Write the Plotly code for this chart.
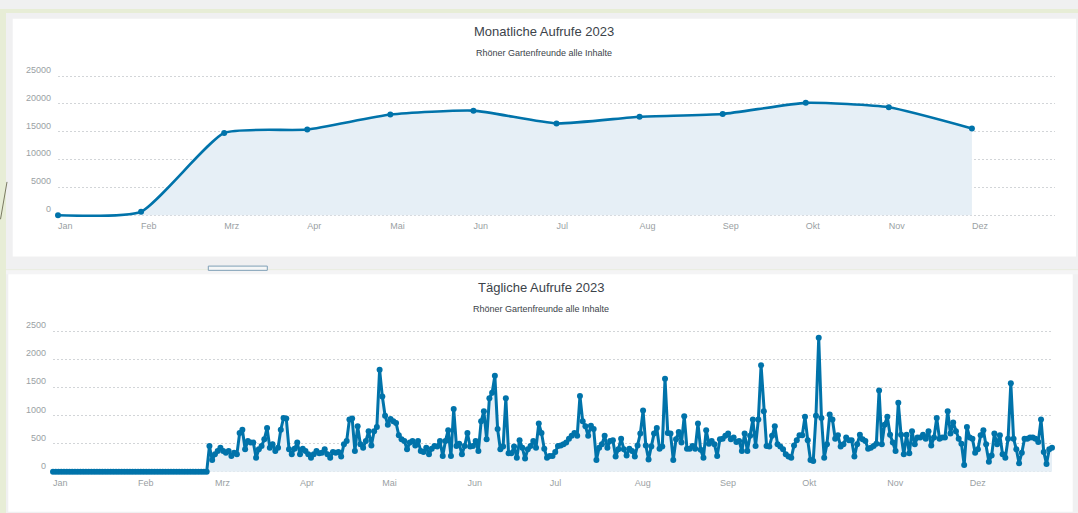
import plotly.graph_objects as go
import pandas as pd

W, H = 1078, 513

# ---------------- data ----------------
months = ["Jan", "Feb", "Mrz", "Apr", "Mai", "Jun", "Jul", "Aug", "Sep", "Okt", "Nov", "Dez"]
monthly_views = [0, 650, 14800, 15400, 18100, 18800, 16500, 17700, 18200, 20200, 19400, 15600]

# 1 Jan - 26 Feb: no views recorded
daily_views_jan_feb = [0, 0, 0, 0, 0, 0, 0, 0, 0, 0, 0, 0, 0, 0, 0, 0, 0, 0, 0, 0,
                       0, 0, 0, 0, 0, 0, 0, 0, 0, 0, 0, 0, 0, 0, 0, 0, 0, 0, 0, 0,
                       0, 0, 0, 0, 0, 0, 0, 0, 0, 0, 0, 0, 0, 0, 0, 0, 0]
# 27 Feb - 23 Apr
daily_views_feb_apr = [460, 210, 310, 370, 430, 370, 340, 370, 280, 340, 310, 690, 750, 400,
                       550, 520, 520, 250, 400, 460, 580, 780, 430, 490, 370, 430, 750, 960,
                       950, 400, 310, 410, 520, 310, 410, 370, 310, 250, 310, 370, 330, 340,
                       400, 310, 250, 350, 340, 350, 270, 490, 550, 930, 950, 370, 810, 490]
# 24 Apr - 1 Sep
daily_views_apr_sep = [430, 550, 720, 470, 720, 800, 1820, 1340, 1000, 840,
                       940, 900, 870, 650, 580, 550, 400, 520, 550, 470,
                       550, 370, 350, 430, 310, 410, 460, 450, 550, 280,
                       550, 740, 280, 1120, 460, 500, 310, 460, 690, 450,
                       460, 550, 370, 900, 1080, 580, 1310, 1410, 1710, 760,
                       400, 450, 1310, 330, 330, 450, 250, 560, 430, 235,
                       400, 460, 550, 430, 860, 690, 410, 250, 280, 280,
                       350, 460, 470, 490, 520, 590, 640, 690, 640, 1350,
                       900, 810, 640, 820, 760, 210, 430, 490, 640, 430,
                       550, 560, 270, 400, 590, 400, 290, 410, 370, 270,
                       470, 680, 1090, 470, 220, 450, 680, 780, 410, 450,
                       1660, 690, 680, 210, 580, 710, 520, 990, 410, 410,
                       460, 410, 860, 390, 250, 740, 500, 550, 490, 280,
                       580]
# 2 Sep - 31 Dec
daily_views_sep_dec = [590, 640, 680, 580, 610, 530, 550, 370, 680, 370,
                       640, 930, 460, 930, 1900, 1080, 460, 450, 640, 810,
                       490, 450, 400, 310, 270, 250, 470, 560, 650, 650,
                       980, 560, 210, 190, 1000, 2390, 960, 250, 490, 1020,
                       930, 590, 650, 450, 490, 610, 560, 560, 270, 490,
                       660, 580, 550, 410, 430, 460, 500, 1450, 490, 840,
                       980, 660, 520, 370, 1230, 660, 310, 660, 330, 720,
                       490, 610, 610, 660, 590, 720, 470, 610, 960, 590,
                       610, 610, 1080, 680, 880, 720, 590, 500, 120, 800,
                       610, 590, 340, 400, 650, 740, 490, 180, 290, 680,
                       490, 650, 310, 250, 590, 1580, 590, 400, 150, 340,
                       590, 590, 610, 610, 590, 530, 930, 350, 140, 400,
                       430]

daily_views = daily_views_jan_feb + daily_views_feb_apr + daily_views_apr_sep + daily_views_sep_dec
daily_dates = pd.date_range("2023-01-01", periods=len(daily_views), freq="D")
month_starts = pd.date_range("2023-01-01", periods=12, freq="MS")

monthly_ticks = [0, 5000, 10000, 15000, 20000, 25000]
daily_ticks = [0, 500, 1000, 1500, 2000, 2500]

# ---------------- styling ----------------
BLUE = "#0073aa"
FILL = "#e6eff6"
GRID = "#d2d5d8"
TICK = "#9a9fa4"
TEXT = "#3c434a"
FONT = "Liberation Sans, Arial, sans-serif"
GRIDDASH = "2px,2px"


def px(x):
    return x / W


def py(y):
    return 1 - y / H


def ydomain(v0, p0, v1, p1, lo, hi):
    # pixel rows p0/p1 of values v0/v1 -> domain for range [lo, hi]
    k = (p0 - p1) / (v1 - v0)
    bottom = p0 + (v0 - lo) * k
    top = p1 - (hi - v1) * k
    return [py(bottom), py(top)]


fig = go.Figure()

fig.add_trace(go.Scatter(
    x=list(range(len(months))), y=monthly_views, mode="lines+markers",
    line=dict(color=BLUE, width=2.6, shape="spline", smoothing=0.5),
    marker=dict(color=BLUE, size=6), fill="tozeroy", fillcolor=FILL,
    cliponaxis=False, xaxis="x", yaxis="y", hoverinfo="skip", showlegend=False))

fig.add_trace(go.Scatter(
    x=daily_dates, y=daily_views, mode="lines+markers",
    line=dict(color=BLUE, width=3), marker=dict(color=BLUE, size=6),
    fill="tozeroy", fillcolor=FILL,
    cliponaxis=False, xaxis="x2", yaxis="y2", hoverinfo="skip", showlegend=False))

tickfont = dict(family=FONT, size=9, color=TICK)

ylo1, yhi1 = -300, 25300
ylo2, yhi2 = -35, 2535

fig.update_layout(
    width=W, height=H, margin=dict(l=0, r=0, t=0, b=0),
    paper_bgcolor="#f0f0f1", plot_bgcolor="rgba(0,0,0,0)",
    font=dict(family=FONT),
    xaxis=dict(domain=[px(58), px(1055)], range=[0, 12], tickvals=list(range(12)),
               ticktext=months, showgrid=False, zeroline=False, showline=False,
               ticks="", tickfont=tickfont, ticklabelposition="outside right",
               ticklabelstandoff=2, anchor="y"),
    yaxis=dict(domain=ydomain(0, 210, 25000, 68.3, ylo1, yhi1), range=[ylo1, yhi1],
               tickvals=monthly_ticks, ticktext=[str(v) for v in monthly_ticks],
               showgrid=True, gridcolor=GRID, griddash=GRIDDASH, gridwidth=1,
               zeroline=False, showline=False, ticks="", tickfont=tickfont,
               ticklabelposition="outside top", ticklabelstandoff=6, anchor="x"),
    xaxis2=dict(domain=[px(53), px(1052)], type="date",
                range=["2023-01-01", "2023-12-31"], tickvals=month_starts,
                ticktext=months, showgrid=False, zeroline=False, showline=False,
                ticks="", tickfont=tickfont, ticklabelposition="outside right",
                ticklabelstandoff=2, anchor="y2"),
    yaxis2=dict(domain=ydomain(0, 471, 2500, 328.3, ylo2, yhi2), range=[ylo2, yhi2],
                tickvals=daily_ticks, ticktext=[str(v) for v in daily_ticks],
                showgrid=True, gridcolor=GRID, griddash=GRIDDASH, gridwidth=1,
                zeroline=False, showline=False, ticks="", tickfont=tickfont,
                ticklabelposition="outside top", ticklabelstandoff=6, anchor="x2"),
)

shapes = [
    # green page background strips
    dict(type="rect", x0=px(0), x1=px(6), y0=py(513), y1=py(0), fillcolor="#e7edd6", line_width=0),
    dict(type="rect", x0=px(0), x1=px(1078), y0=py(4), y1=py(0), fillcolor="#e7edd6", line_width=0),
    # decorative stem in page background
    dict(type="line", x0=px(0.5), x1=px(7), y0=py(214), y1=py(176), line=dict(color="#7a7a62", width=1)),
    # top white card
    dict(type="rect", x0=px(12.7), x1=px(1076), y0=py(252), y1=py(10), fillcolor="white", line_width=0),
    # separator line and light strip
    dict(type="rect", x0=px(6), x1=px(1078), y0=py(266), y1=py(265), fillcolor="#e8ecdc", line_width=0),
    dict(type="rect", x0=px(6), x1=px(1078), y0=py(270), y1=py(266), fillcolor="#f4f4f5", line_width=0),
    # small tab outline
    dict(type="rect", x0=px(208.3), x1=px(267.3), y0=py(266), y1=py(261.7), fillcolor="#f6f7f7",
         line=dict(color="#7f9fb6", width=1)),
    # bottom white card
    dict(type="rect", x0=px(8.3), x1=px(1072.7), y0=py(511.7), y1=py(270), fillcolor="white", line_width=0),
]
for s in shapes:
    s.update(xref="paper", yref="paper", layer="below")
fig.update_layout(shapes=shapes)

annotations = [
    dict(text="Monatliche Aufrufe 2023", x=px(544), y=py(22.7), font=dict(size=13, color=TEXT)),
    dict(text="Rhöner Gartenfreunde alle Inhalte", x=px(544), y=py(45), font=dict(size=9, color=TEXT)),
    dict(text="Tägliche Aufrufe 2023", x=px(541), y=py(283.3), font=dict(size=13, color=TEXT)),
    dict(text="Rhöner Gartenfreunde alle Inhalte", x=px(540.5), y=py(305.7), font=dict(size=9, color=TEXT)),
]
for a in annotations:
    a.update(xref="paper", yref="paper", showarrow=False, xanchor="center", yanchor="middle")
    a["font"]["family"] = FONT
fig.update_layout(annotations=annotations)

fig.write_html(
    "out.html",
    config={"displayModeBar": False},
    post_script="document.body.style.margin='0';document.body.style.overflow='hidden';",
)
